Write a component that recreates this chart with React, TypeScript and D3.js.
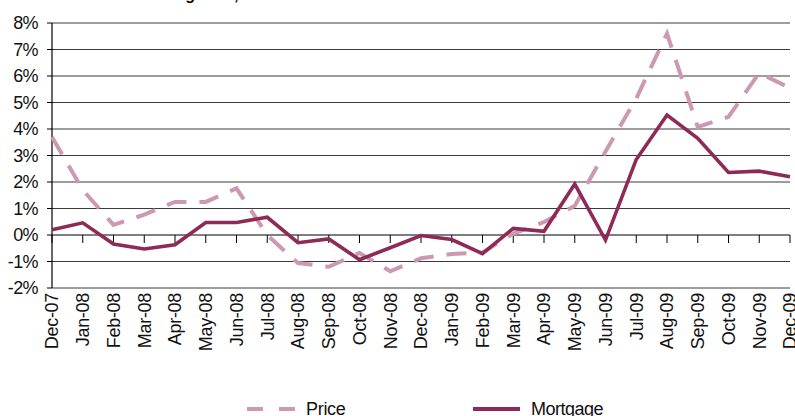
import React from "react";
import * as d3 from "d3";

const months = [
  "Dec-07", "Jan-08", "Feb-08", "Mar-08", "Apr-08", "May-08", "Jun-08", "Jul-08",
  "Aug-08", "Sep-08", "Oct-08", "Nov-08", "Dec-08", "Jan-09", "Feb-09", "Mar-09",
  "Apr-09", "May-09", "Jun-09", "Jul-09", "Aug-09", "Sep-09", "Oct-09", "Nov-09", "Dec-09",
];
const price = [
  3.7, 1.7, 0.38, 0.77, 1.25, 1.25, 1.76, 0.0,
  -1.06, -1.2, -0.68, -1.37, -0.88, -0.72, -0.66, 0.05,
  0.49, 1.1, 3.15, 5.15, 7.6, 4.08, 4.46, 6.12, 5.54,
];
const mortgage = [
  0.2, 0.46, -0.34, -0.53, -0.37, 0.47, 0.47, 0.67,
  -0.29, -0.15, -0.93, -0.48, -0.02, -0.17, -0.7, 0.25,
  0.14, 1.92, -0.19, 2.85, 4.53, 3.65, 2.36, 2.41, 2.2,
];
const yTicks = [-2, -1, 0, 1, 2, 3, 4, 5, 6, 7, 8];

const W = 795;
const H = 416;
const FONT = "'Liberation Sans', Arial, Helvetica, sans-serif";
const PRICE_COLOR = "#cd98b1";
const MORT_COLOR = "#8e2a57";

export default function App() {
  const x = d3.scaleLinear().domain([0, months.length - 1]).range([52, 790]);
  const y = d3.scaleLinear().domain([-2, 8]).range([288, 23]);
  const line = d3
    .line<number>()
    .x((_, i) => x(i))
    .y((d) => y(d));

  return (
    <svg
      width={W}
      height={H}
      style={{ position: "absolute", left: 0, top: 0, background: "#fff" }}
      fontFamily={FONT}
    >
      <text x={131} y={-0.5} fontSize={16} fontWeight="bold" fill="#000">
        Housing Data, %
      </text>
      {yTicks.map((t) => (
        <g key={t}>
          {t !== 0 && (
            <line x1={52} x2={790} y1={y(t)} y2={y(t)} stroke="#3a3a3a" strokeWidth={1.2} />
          )}
          <line x1={47} x2={52} y1={y(t)} y2={y(t)} stroke="#000" strokeWidth={1} />
          <text
            x={38}
            y={y(t)}
            dy="0.36em"
            textAnchor="end"
            fontSize={18}
            fill="#111"
            letterSpacing={-0.6}
          >
            {t}%
          </text>
        </g>
      ))}
      {/* x axis at zero */}
      <line x1={52} x2={790} y1={y(0)} y2={y(0)} stroke="#000" strokeWidth={1.2} />
      {months.map((m, i) => (
        <g key={m}>
          <line x1={x(i)} x2={x(i)} y1={y(0)} y2={y(0) + 8} stroke="#000" strokeWidth={1} />
          <text
            transform={`translate(${x(i)},293) rotate(-90)`}
            dy="0.36em"
            textAnchor="end"
            fontSize={18}
            fill="#111"
            letterSpacing={-0.3}
          >
            {m}
          </text>
        </g>
      ))}
      <line x1={52} x2={52} y1={y(8)} y2={y(-2)} stroke="#000" strokeWidth={1.2} />
      <path
        d={line(price) || ""}
        fill="none"
        stroke={PRICE_COLOR}
        strokeWidth={4}
        strokeDasharray="20 13"
      />
      <path
        d={line(mortgage) || ""}
        fill="none"
        stroke={MORT_COLOR}
        strokeWidth={3.6}
        strokeLinejoin="miter"
      />
      {/* legend */}
      <line
        x1={247}
        x2={295}
        y1={409}
        y2={409}
        stroke={PRICE_COLOR}
        strokeWidth={4}
        strokeDasharray="16 16"
      />
      <text x={306} y={415} fontSize={18} fill="#111" letterSpacing={-0.3}>
        Price
      </text>
      <line x1={473} x2={520} y1={409} y2={409} stroke={MORT_COLOR} strokeWidth={4} />
      <text x={531} y={415} fontSize={18} fill="#111" letterSpacing={-0.5}>
        Mortgage
      </text>
    </svg>
  );
}
